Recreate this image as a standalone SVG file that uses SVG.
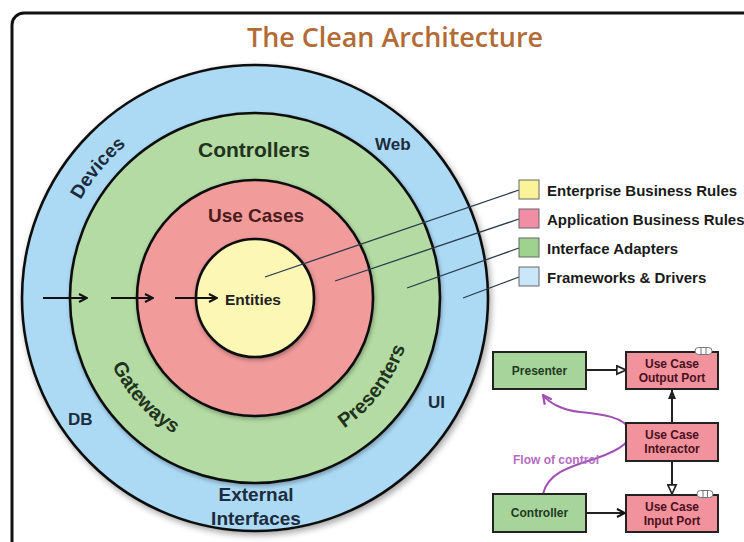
<svg xmlns="http://www.w3.org/2000/svg" width="744" height="542" viewBox="0 0 744 542">
  <defs>
    <style>
      .lbl{font-family:"Liberation Sans",Arial,sans-serif;font-weight:bold;}
      .ring{stroke:#111;stroke-width:2.6;}
      .lead{stroke:#2a3a4a;stroke-width:1.3;fill:none;}
      .lg{stroke:#666;stroke-width:1;}
      .lgt{font-family:"Liberation Sans",Arial,sans-serif;font-weight:bold;font-size:15px;fill:#1a1a1a;}
      .box{stroke:#222;stroke-width:2;}
      .bt{font-family:"Liberation Sans",Arial,sans-serif;font-weight:bold;font-size:12px;text-anchor:middle;}
      .conn{stroke:#222;stroke-width:2;fill:none;}
      .flow{stroke:#a24fb5;stroke-width:2;fill:none;}
      .inward{stroke:#111;stroke-width:2;fill:none;}
    </style>
    <filter id="shadow" x="-10%" y="-10%" width="120%" height="120%">
      <feDropShadow dx="2" dy="3" stdDeviation="3" flood-color="#000" flood-opacity="0.35"/>
    </filter>
    <filter id="ishadow" x="-10%" y="-10%" width="120%" height="120%">
      <feDropShadow dx="1" dy="2" stdDeviation="2" flood-color="#000" flood-opacity="0.3"/>
    </filter>
    <marker id="vopen" viewBox="0 0 10 10" refX="9" refY="5" markerWidth="10" markerHeight="10" markerUnits="userSpaceOnUse" orient="auto">
      <path d="M1,1 L9,5 L1,9" fill="none" stroke="#111" stroke-width="2"/>
    </marker>
    <marker id="hollow" viewBox="0 0 12 12" refX="11" refY="6" markerWidth="11" markerHeight="11" markerUnits="userSpaceOnUse" orient="auto">
      <path d="M1,1.5 L11,6 L1,10.5 Z" fill="#fff" stroke="#222" stroke-width="1.8"/>
    </marker>
    <marker id="solid" viewBox="0 0 10 10" refX="9" refY="5" markerWidth="11" markerHeight="10" markerUnits="userSpaceOnUse" orient="auto">
      <path d="M0,1 L10,5 L0,9 Z" fill="#222"/>
    </marker>
    <marker id="popen" viewBox="0 0 10 10" refX="9" refY="5" markerWidth="11" markerHeight="11" markerUnits="userSpaceOnUse" orient="auto">
      <path d="M1,1 L9,5 L1,9" fill="none" stroke="#a24fb5" stroke-width="2"/>
    </marker>
    <path id="arcDevices" d="M55,298 A200,200 0 0 1 255,98"/>
    <path id="arcBottom" d="M97,298 A158,158 0 0 0 413,298"/>
  </defs>

  <rect x="0" y="0" width="744" height="542" fill="#fff"/>
  <rect x="12" y="13" width="820" height="620" rx="12" fill="#fff" stroke="#111" stroke-width="3"/>

  <text x="395" y="47" text-anchor="middle" font-family="Open Sans, 'Liberation Sans', sans-serif" font-size="27" font-weight="600" fill="#b26b35" textLength="296" lengthAdjust="spacingAndGlyphs">The Clean Architecture</text>

  <g id="rings">
    <circle id="frameworks" cx="255" cy="298" r="233" fill="#acdaf5" class="ring" filter="url(#shadow)"/>
    <circle id="adapters" cx="255" cy="298" r="185" fill="#b4dba3" class="ring" filter="url(#ishadow)"/>
    <circle id="usecases" cx="255" cy="298" r="118" fill="#f29b9b" class="ring" filter="url(#ishadow)"/>
    <circle id="entities" cx="255" cy="298" r="59" fill="#fdf7b6" class="ring" filter="url(#ishadow)"/>
  </g>

  <g id="ring-labels">
    <text class="lbl" font-size="19" fill="#1d2b3e"><textPath href="#arcDevices" startOffset="44%" text-anchor="middle">Devices</textPath></text>
    <text class="lbl" x="375" y="150" font-size="17" fill="#1d2b3e">Web</text>
    <text class="lbl" x="68" y="425" font-size="17" fill="#1d2b3e">DB</text>
    <text class="lbl" x="428" y="408" font-size="17" fill="#1d2b3e">UI</text>
    <text class="lbl" x="256" y="501" font-size="19" fill="#1d2b3e" text-anchor="middle">External</text>
    <text class="lbl" x="256" y="525" font-size="19" fill="#1d2b3e" text-anchor="middle">Interfaces</text>
    <text class="lbl" x="254" y="157" font-size="21" fill="#1f3320" text-anchor="middle">Controllers</text>
    <text class="lbl" font-size="20" fill="#1f3320"><textPath href="#arcBottom" startOffset="23.5%" text-anchor="middle">Gateways</textPath></text>
    <text class="lbl" font-size="20" fill="#1f3320"><textPath href="#arcBottom" startOffset="79.5%" text-anchor="middle">Presenters</textPath></text>
    <text class="lbl" x="256" y="222" font-size="19" fill="#4a1c1c" text-anchor="middle">Use Cases</text>
    <text class="lbl" x="225" y="305" font-size="15.5" fill="#222">Entities</text>
  </g>

  <g id="dependency-arrows">
    <line class="inward" x1="43" y1="298" x2="87" y2="298" marker-end="url(#vopen)"/>
    <line class="inward" x1="111" y1="298" x2="153" y2="298" marker-end="url(#vopen)"/>
    <line class="inward" x1="175" y1="298" x2="217" y2="298" marker-end="url(#vopen)"/>
  </g>

  <g id="legend-leaders">
    <line class="lead" x1="519" y1="190" x2="265" y2="277"/>
    <line class="lead" x1="519" y1="219" x2="335" y2="281"/>
    <line class="lead" x1="519" y1="248" x2="407" y2="288"/>
    <line class="lead" x1="519" y1="277" x2="463" y2="298"/>
  </g>

  <g id="legend">
    <g id="lg-enterprise"><rect class="lg" x="519" y="180" width="20" height="19" fill="#fbf39a"/><text class="lgt" x="547" y="196">Enterprise Business Rules</text></g>
    <g id="lg-application"><rect class="lg" x="519" y="209" width="20" height="19" fill="#f28da6"/><text class="lgt" x="547" y="225">Application Business Rules</text></g>
    <g id="lg-adapters"><rect class="lg" x="519" y="238" width="20" height="19" fill="#9fd18f"/><text class="lgt" x="547" y="254">Interface Adapters</text></g>
    <g id="lg-frameworks"><rect class="lg" x="519" y="267" width="20" height="19" fill="#c9e7f8"/><text class="lgt" x="547" y="283">Frameworks &amp; Drivers</text></g>
  </g>

  <g id="connectors">
    <path class="flow" d="M543,494 C548,472 572,466 597,458 C617,451 634,442 630,430 C624,417 602,414 580,412 C562,410 549,403 543,395" marker-end="url(#popen)"/>
    <line class="conn" x1="586" y1="370" x2="626" y2="370" marker-end="url(#hollow)"/>
    <line class="conn" x1="672" y1="423" x2="672" y2="390" marker-end="url(#solid)"/>
    <line class="conn" x1="672" y1="461" x2="672" y2="494" marker-end="url(#hollow)"/>
    <line class="conn" x1="586" y1="513" x2="625" y2="513" marker-end="url(#vopen)"/>
  </g>
  <text x="513" y="464" font-family="Liberation Sans, Arial, sans-serif" font-weight="bold" font-size="12" fill="#b36cc2">Flow of control</text>

  <g id="presenter">
    <rect class="box" x="493" y="352" width="93" height="37" fill="#a6d49a"/>
    <text class="bt" x="539.5" y="375" fill="#1f3a1f">Presenter</text>
  </g>
  <g id="output-port">
    <rect class="box" x="626" y="352" width="92" height="37" fill="#f1929c"/>
    <rect x="695" y="347.5" width="17" height="7" rx="3.5" fill="#fff" stroke="#777" stroke-width="1"/>
    <line x1="701" y1="348" x2="701" y2="354" stroke="#777" stroke-width="1"/>
    <line x1="706" y1="348" x2="706" y2="354" stroke="#777" stroke-width="1"/>
    <text class="bt" x="672" y="368" fill="#4a1020">Use Case</text>
    <text class="bt" x="672" y="382" fill="#4a1020">Output Port</text>
  </g>
  <g id="interactor">
    <rect class="box" x="626" y="423" width="92" height="38" fill="#f1929c"/>
    <text class="bt" x="672" y="439" fill="#4a1020">Use Case</text>
    <text class="bt" x="672" y="453" fill="#4a1020">Interactor</text>
  </g>
  <g id="controller">
    <rect class="box" x="493" y="494" width="93" height="38" fill="#a6d49a"/>
    <text class="bt" x="539.5" y="517" fill="#1f3a1f">Controller</text>
  </g>
  <g id="input-port">
    <rect class="box" x="626" y="495" width="92" height="37" fill="#f1929c"/>
    <rect x="697" y="490.5" width="16" height="7" rx="3.5" fill="#fff" stroke="#777" stroke-width="1"/>
    <line x1="703" y1="491" x2="703" y2="497" stroke="#777" stroke-width="1"/>
    <line x1="707.5" y1="491" x2="707.5" y2="497" stroke="#777" stroke-width="1"/>
    <text class="bt" x="672" y="511" fill="#4a1020">Use Case</text>
    <text class="bt" x="672" y="525" fill="#4a1020">Input Port</text>
  </g>
</svg>
